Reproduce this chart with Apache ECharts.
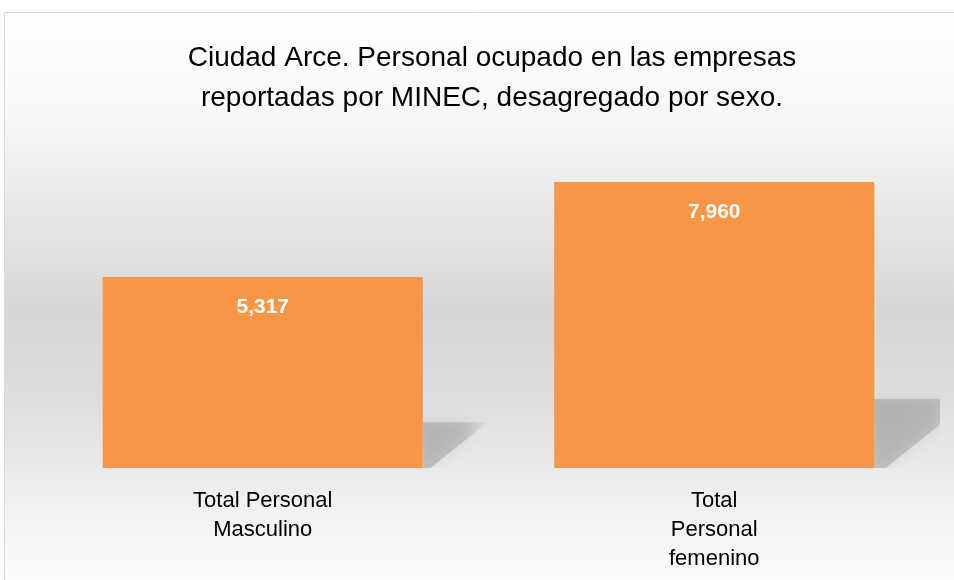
<!DOCTYPE html>
<html>
<head>
<meta charset="utf-8">
<script src="https://cdn.jsdelivr.net/npm/echarts@6/dist/echarts.min.js"></script>
<style>html,body{margin:0;padding:0;background:#fff}#c{width:954px;height:580px}</style>
</head>
<body>
<div id="c"></div>
<script>
var titleLines = ['Ciudad Arce. Personal ocupado en las empresas', 'reportadas por MINEC, desagregado por sexo.'];
var categories = ['Total Personal\nMasculino', 'Total\nPersonal\nfemenino'];
var values = [5317, 7960];

var chart = echarts.init(document.getElementById('c'));
var fontFam = '"Liberation Sans", Arial, sans-serif';
chart.setOption({
  animation: false,
  graphic: [{
    type: 'rect', silent: true, z: -10,
    shape: {x: 4.5, y: 12.5, width: 960, height: 600},
    style: {
      fill: {type: 'linear', x: 0, y: 0, x2: 0, y2: 1, colorStops: [
        {offset: 0, color: '#ffffff'},
        {offset: 0.15, color: '#f9f9f9'},
        {offset: 0.3, color: '#ebebeb'},
        {offset: 0.5, color: '#d6d6d6'},
        {offset: 0.65, color: '#dedede'},
        {offset: 0.8, color: '#efefef'},
        {offset: 0.95, color: '#fcfcfc'},
        {offset: 1, color: '#ffffff'}
      ]},
      stroke: '#d9d9d9', lineWidth: 1
    }
  }],
  title: {
    text: titleLines.join('\n'),
    left: 487, textAlign: 'center', top: 33,
    textStyle: {fontFamily: fontFam, fontSize: 28, fontWeight: 'normal', color: '#000', lineHeight: 40}
  },
  grid: {left: 37, right: 14, top: 144.6, bottom: 112},
  xAxis: {
    type: 'category', data: categories,
    axisLine: {show: false}, axisTick: {show: false},
    axisLabel: {fontFamily: fontFam, fontSize: 22, color: '#000', lineHeight: 29, margin: 18, interval: 0}
  },
  yAxis: {type: 'value', min: 0, max: 9000, show: false, splitLine: {show: false}},
  series: [{
    type: 'custom', clip: true, z: 1,
    data: values.map(function (v, i) { return [i, v]; }),
    renderItem: function (params, api) {
      var base = api.coord([api.value(0), 0]);
      var top = api.coord([api.value(0), api.value(1)]);
      var bw = api.size([1, 0])[0] * 0.709;
      var xr = base[0] + bw / 2;
      var yb = base[1];
      var h = yb - top[1];
      return {
        type: 'polygon',
        shape: {points: [[xr, yb - 0.24 * h], [xr + 0.34 * h, yb - 0.24 * h], [xr + 0.04 * h, yb], [xr, yb]]},
        style: {
          fill: {type: 'linear', x: 0, y: 0, x2: 1, y2: 0, colorStops: [
            {offset: 0, color: 'rgba(110,110,110,0.32)'},
            {offset: 0.6, color: 'rgba(110,110,110,0.28)'},
            {offset: 1, color: 'rgba(110,110,110,0.05)'}
          ]},
          shadowBlur: 14, shadowColor: 'rgba(90,90,90,0.4)'
        }
      };
    }
  }, {
    type: 'bar', data: values, barWidth: '70.9%', z: 2,
    itemStyle: {color: '#F79646'},
    label: {
      show: true, position: 'insideTop', distance: 20,
      fontFamily: fontFam, fontSize: 21, fontWeight: 'bold', color: '#fff',
      formatter: function (p) { return p.value.toLocaleString('en-US'); }
    }
  }]
});
</script>
</body>
</html>
